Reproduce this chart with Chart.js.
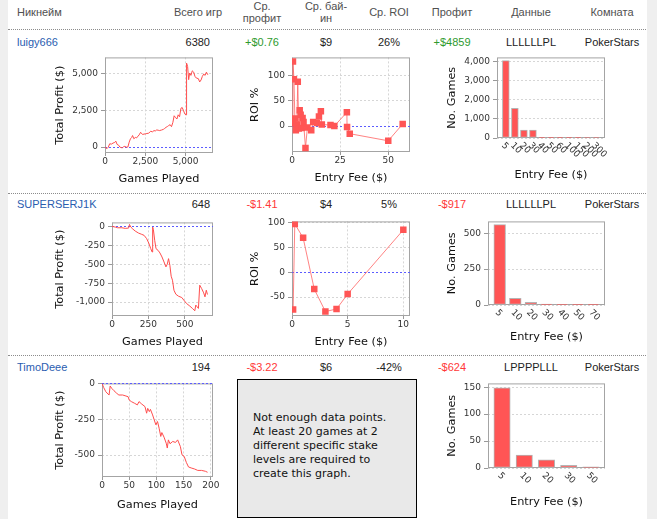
<!DOCTYPE html>
<html>
<head>
<meta charset="utf-8">
<script src="https://cdn.jsdelivr.net/npm/chart.js@4.4.1/dist/chart.umd.min.js"></script>
<style>
  html, body { margin: 0; padding: 0; }
  body { width: 657px; height: 519px; background: #fff; position: relative; overflow: hidden;
         font-family: "Liberation Sans", Arial, sans-serif; font-size: 11px; color: #222; }
  .strip { position: absolute; top: 0; bottom: 0; background: #efefef; }
  .t { position: absolute; white-space: nowrap; line-height: 13px; }
  .sep { position: absolute; left: 8px; width: 638px; height: 0; border-top: 1px dotted #8c8c8c; }
  canvas { position: absolute; }
  .box { position: absolute; background: #e9e9e9; border: 1px solid #000;
         font-family: "DejaVu Sans", sans-serif; font-size: 11px; color: #111; }
  .box div { position: absolute; left: 15px; top: 31px; line-height: 14px; white-space: nowrap; }
</style>
</head>
<body>
<div class="strip" style="left:0;width:8px"></div>
<div class="strip" style="left:647px;width:10px"></div>

<script>
// ---- table data ----
const nicknames   = ['luigy666', 'SUPERSERJ1K', 'TimoDeee'];
const gamesTotal  = [6380, 648, 194];
const avgProfit   = ['+$0.76', '-$1.41', '-$3.22'];
const avgBuyin    = ['$9', '$4', '$6'];
const avgRoi      = ['26%', '5%', '-42%'];
const totalProfit = ['+$4859', '-$917', '-$624'];
const recent      = ['LLLLLLPL', 'LLLLLLPL', 'LPPPPLLL'];
const rooms       = ['PokerStars', 'PokerStars', 'PokerStars'];

// ---- profit curves [games, total profit $] ----
const profit1 = [[0,0],[125,-110],[200,-20],[290,220],[400,200],[500,270],[600,310],[670,400],[750,180],
  [850,120],[920,0],[1000,-40],[1080,-45],[1150,20],[1230,45],[1320,-10],[1420,0],[1500,330],[1580,560],
  [1650,640],[1710,780],[1790,560],[1880,650],[1960,620],[2050,740],[2120,825],[2210,1000],[2330,850],
  [2420,880],[2500,890],[2600,920],[2710,935],[2830,1070],[2940,1030],[3040,1115],[3120,1090],[3210,1160],
  [3300,1140],[3375,1115],[3500,1150],[3625,1200],[3700,1260],[3790,1340],[3870,1390],[3940,1450],
  [4040,1515],[4125,1380],[4210,1670],[4290,2120],[4375,2000],[4460,1900],[4540,2185],[4625,2050],
  [4710,2630],[4790,2680],[4875,2450],[4960,2230],[5040,2185],[5060,5690],[5125,5460],[5190,4570],
  [5250,5020],[5330,4860],[5415,5170],[5500,5080],[5580,4795],[5665,4680],[5790,4640],[5875,4415],
  [5960,4550],[6040,4795],[6125,4950],[6210,4860],[6290,5080],[6380,4900]];
const profit2 = [[0,0],[23,-9],[39,-18],[68,-18],[91,-26],[114,-22],[120,26],[129,-9],[143,-35],[159,-61],
  [182,-88],[204,-105],[220,-118],[238,-162],[252,-220],[266,-294],[275,-338],[279,-9],[284,-44],[293,-184],
  [302,-294],[316,-316],[329,-351],[343,-404],[357,-470],[370,-535],[379,-500],[388,-426],[397,-514],
  [406,-658],[415,-711],[425,-843],[438,-896],[456,-922],[479,-940],[493,-975],[511,-1018],[534,-1053],
  [552,-1084],[568,-1115],[575,-1040],[584,-1062],[593,-1084],[602,-777],[615,-821],[629,-878],[638,-931],
  [647,-843],[655,-900]];
const profit3 = [[0,0],[3,-28],[7,-58],[11,-74],[13,-81],[15,-18],[18,-35],[22,-51],[27,-69],[31,-81],
  [38,-81],[44,-88],[48,-93],[50,-116],[54,-127],[60,-139],[65,-150],[68,-127],[73,-144],[79,-162],
  [82,-208],[84,-174],[87,-197],[89,-181],[93,-220],[96,-255],[99,-289],[102,-266],[105,-313],[108,-370],
  [110,-343],[114,-375],[118,-417],[120,-451],[122,-394],[125,-421],[130,-405],[135,-412],[139,-394],
  [144,-440],[147,-498],[151,-509],[155,-551],[159,-583],[164,-590],[170,-597],[176,-607],[183,-607],
  [190,-613],[194,-620]];

// ---- ROI by entry fee [fee $, ROI %] ----
const roi1 = [[0.25,5],[0.5,127],[1,92],[1.5,15],[2,-8],[2.5,3],[3,87],[3.5,-5],[4,31],[4.5,22],[5,-4],
  [5.5,16],[6,8],[7,-43],[8,-3],[10,-8],[11,8],[13,6],[14,19],[15,29],[15.5,3],[20,2],[22,0],
  [28.5,27],[28.6,-2],[30,-15],[50,-29],[57.5,4]];
const roi2 = [[0.1,-75],[0.25,97],[1,69],[2,-34],[3,-79],[4,-74],[5,-44],[10,85]];

// ---- games by entry fee ----
const fees1 = [5, 10, 20, 30, 40, 50, 60, 100, 150, 200, 300];
const count1 = [4030, 1540, 410, 410, 40, 40, 35, 8, 5, 4, 3];
const fees2 = [5, 10, 20, 30, 40, 50, 70];
const count2 = [560, 46, 18, 6, 1, 1, 1];
const fees3 = [5, 10, 20, 30, 50];
const count3 = [149, 24, 15, 5, 2];

// ---------- table text ----------
function txt(s, x, y, align, color) {
  const d = document.createElement('div');
  d.className = 't';
  d.textContent = s;
  d.style.left = x + 'px';
  d.style.top = y + 'px';
  const tx = align === 'c' ? '-50%' : align === 'r' ? '-100%' : '0';
  d.style.transform = 'translate(' + tx + ',-50%)';
  if (color) d.style.color = color;
  document.body.appendChild(d);
}
const hc = '#505050';
txt('Никнейм', 17, 12, 'l', hc);
txt('Всего игр', 198, 12, 'c', hc);
txt('Ср.', 262, 6, 'c', hc); txt('профит', 262, 17.5, 'c', hc);
txt('Ср. бай-', 326, 6, 'c', hc); txt('ин', 326, 17.5, 'c', hc);
txt('Ср. ROI', 389, 12, 'c', hc);
txt('Профит', 452, 12, 'c', hc);
txt('Данные', 531, 12, 'c', hc);
txt('Комната', 612, 12, 'c', hc);

[29, 193, 355].forEach(y => {
  const s = document.createElement('div'); s.className = 'sep'; s.style.top = y + 'px';
  document.body.appendChild(s);
});

const rowY = [42, 204, 367];
rowY.forEach((y, i) => {
  const up = s => s[0] === '+' ? '#2e9a2e' : '#ff3838';
  txt(nicknames[i], 17, y, 'l', '#2a5db0');
  txt(String(gamesTotal[i]), 210, y, 'r', '#222');
  txt(avgProfit[i], 262, y, 'c', up(avgProfit[i]));
  txt(avgBuyin[i], 326, y, 'c', '#222');
  txt(avgRoi[i], 389, y, 'c', '#222');
  txt(totalProfit[i], 452, y, 'c', up(totalProfit[i]));
  txt(recent[i], 531, y, 'c', '#222');
  txt(rooms[i], 612, y, 'c', '#222');
});

// ---------- charts ----------
Chart.defaults.font.family = '"DejaVu Sans", sans-serif';
Chart.defaults.font.size = 9;
Chart.defaults.color = '#333';

const framePlugin = {
  id: 'frame',
  beforeDatasetsDraw(chart, args, o) {
    const a = chart.chartArea, ctx = chart.ctx;
    ctx.save();
    ctx.strokeStyle = '#a4a4a4'; ctx.lineWidth = 1;
    ctx.strokeRect(a.left + 0.5, a.top + 0.5, a.right - a.left - 1, a.bottom - a.top - 1);
    if (o.zero) {
      const y = Math.round(chart.scales.y.getPixelForValue(0)) + 0.5;
      ctx.strokeStyle = '#5c5cff'; ctx.setLineDash([2, 2]);
      ctx.beginPath(); ctx.moveTo(a.left, y); ctx.lineTo(a.right, y); ctx.stroke();
    }
    ctx.restore();
  },
  afterDraw(chart, args, o) {
    if (!o.cats) return;
    const a = chart.chartArea, ctx = chart.ctx, xs = chart.scales.x;
    ctx.save();
    ctx.font = '9px "DejaVu Sans"'; ctx.fillStyle = '#333';
    ctx.textAlign = 'left'; ctx.textBaseline = 'middle';
    o.cats.forEach((c, i) => {
      ctx.save();
      ctx.translate(xs.getPixelForValue(i) - 3, a.bottom + 6);
      ctx.rotate(Math.PI / 4);
      ctx.fillText(String(c), 0, 0);
      ctx.restore();
    });
    ctx.restore();
  }
};

const fmt = v => Number(v).toLocaleString('en-US');
const titleFont = { family: '"DejaVu Sans", sans-serif', size: 11.3 };

function place(g) {
  const c = document.createElement('canvas');
  const w = g.yw + g.pw + 12, h = 8 + g.ph + g.xh;
  c.width = w; c.height = h;
  c.style.left = (g.pl - g.yw) + 'px'; c.style.top = (g.pt - 8) + 'px';
  c.style.width = w + 'px'; c.style.height = h + 'px';
  document.body.appendChild(c);
  return c;
}

function axisY(g, min, max, ticks, title) {
  return {
    min, max,
    afterFit: s => { s.width = g.yw; },
    afterBuildTicks: s => { s.ticks = ticks.map(v => ({ value: v })); s.min = min; s.max = max; },
    ticks: { callback: fmt, padding: 3 },
    grid: { color: '#d6d6d6', tickLength: 4, tickColor: '#999' },
    border: { display: false, dash: [2, 2] },
    title: { display: true, text: title, font: titleFont, color: '#111', padding: 4 }
  };
}

function lineChart(g, pts, xmin, xmax, xt, ymin, ymax, yt, xTitle, yTitle, squares) {
  const ds = squares ? {
    data: pts.map(p => ({ x: p[0], y: p[1] })), showLine: true,
    borderColor: 'rgba(255,90,90,0.75)', borderWidth: 1,
    pointStyle: 'rect', pointRadius: 4.6, pointBorderWidth: 0,
    pointBackgroundColor: '#ff5555'
  } : {
    data: pts.map(p => ({ x: p[0], y: p[1] })), showLine: true,
    borderColor: '#ff4d4d', borderWidth: 1, pointRadius: 0
  };
  new Chart(place(g), {
    type: 'scatter',
    data: { datasets: [ds] },
    plugins: [framePlugin],
    options: {
      responsive: false, animation: false,
      layout: { padding: { top: 8, right: 12, left: 0, bottom: 0 } },
      plugins: { legend: { display: false }, tooltip: { enabled: false }, frame: { zero: true } },
      scales: {
        x: {
          type: 'linear', min: xmin, max: xmax,
          afterFit: s => { s.height = g.xh; },
          afterBuildTicks: s => { s.ticks = xt.map(v => ({ value: v })); s.min = xmin; s.max = xmax; },
          ticks: { callback: fmt, padding: 0, maxRotation: 0 },
          grid: { color: '#d6d6d6', tickLength: 3, tickColor: '#999' },
          border: { display: false, dash: [2, 2] },
          title: { display: true, text: xTitle, font: titleFont, color: '#111', padding: 4 }
        },
        y: axisY(g, ymin, ymax, yt, yTitle)
      }
    }
  });
}

function barChart(g, cats, vals, ymax, yt) {
  // category spacing of the original renderer: 5% outer margins, 20% between categories
  const n = cats.length, W = g.pw;
  const cw = 0.7 * W / n, gap = 0.2 * W / (n - 1), step = cw + gap;
  const a = (0.05 * W + cw / 2) / step;
  const xmin = -a, xmax = n - 1 + a;
  new Chart(place(g), {
    type: 'bar',
    data: { datasets: [{
      data: vals.map((v, i) => ({ x: i, y: v })),
      backgroundColor: '#ff5555', borderColor: '#b4b4b4', borderWidth: 1,
      borderSkipped: false, barThickness: cw
    }] },
    plugins: [framePlugin],
    options: {
      responsive: false, animation: false,
      layout: { padding: { top: 8, right: 12, left: 0, bottom: 0 } },
      plugins: { legend: { display: false }, tooltip: { enabled: false }, frame: { cats } },
      scales: {
        x: {
          type: 'linear', min: xmin, max: xmax, offset: false,
          afterFit: s => { s.height = g.xh; },
          afterBuildTicks: s => { s.ticks = cats.map((c, i) => ({ value: i })); s.min = xmin; s.max = xmax; },
          ticks: { display: false },
          grid: { display: false, offset: false },
          border: { display: false },
          title: { display: true, text: 'Entry Fee ($)', font: titleFont, color: '#111', padding: 4 }
        },
        y: axisY(g, 0, ymax, yt, 'No. Games')
      }
    }
  });
}

// row 1
lineChart({ pl: 105, pt: 57, pw: 108, ph: 96, yw: 56, xh: 37 }, profit1,
  0, 6700, [0, 2500, 5000], -405, 6080, [0, 2500, 5000], 'Games Played', 'Total Profit ($)', false);
lineChart({ pl: 292, pt: 57, pw: 118, ph: 95, yw: 48, xh: 37 }, roi1,
  0, 61.3, [0, 25, 50], -51, 135, [0, 50, 100], 'Entry Fee ($)', 'ROI %', true);
barChart({ pl: 497, pt: 57, pw: 108, ph: 81, yw: 56, xh: 48 }, fees1, count1,
  4200, [0, 1000, 2000, 3000, 4000]);

// row 2
lineChart({ pl: 112, pt: 222, pw: 101, ph: 94, yw: 63, xh: 37 }, profit2,
  0, 693, [0, 250, 500], -1184, 53, [-1000, -750, -500, -250, 0], 'Games Played', 'Total Profit ($)', false);
lineChart({ pl: 292, pt: 221, pw: 118, ph: 95, yw: 48, xh: 37 }, roi2,
  0, 10.6, [0, 5, 10], -88, 102, [-50, 0, 50, 100], 'Entry Fee ($)', 'ROI %', true);
barChart({ pl: 488, pt: 221, pw: 117, ph: 84, yw: 47, xh: 43 }, fees2, count2,
  583, [0, 250, 500]);

// row 3
lineChart({ pl: 102, pt: 383, pw: 111, ph: 94, yw: 53, xh: 39 }, profit3,
  0, 204, [0, 50, 100, 150, 200], -653, 0, [-500, -250, 0], 'Games Played', 'Total Profit ($)', false);
barChart({ pl: 488, pt: 383, pw: 117, ph: 85, yw: 47, xh: 45 }, fees3, count3,
  157, [0, 50, 100, 150]);
</script>

<div class="box" style="left:237px;top:379px;width:178px;height:137px">
  <div>Not enough data points.<br>At least 20 games at 2<br>different specific stake<br>levels are required to<br>create this graph.</div>
</div>
</body>
</html>
